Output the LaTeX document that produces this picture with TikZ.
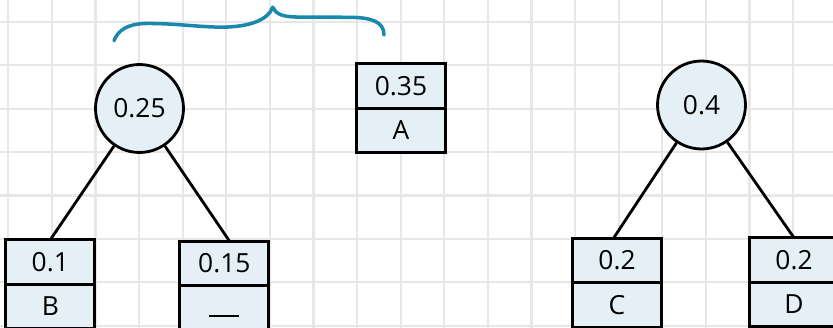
\documentclass[tikz,border=0pt]{standalone}
\usepackage{fontspec}
\setmainfont{Open Sans}
\usetikzlibrary{positioning}
\definecolor{cellfill}{HTML}{E4F0F5}
\definecolor{bracecol}{HTML}{1888AD}
\definecolor{gridcol}{HTML}{E7E7E7}
\begin{document}
\begin{tikzpicture}[x=0.02cm,y=-0.02cm,
  every node/.style={font=\fontsize{15}{18}\selectfont},
  inner/.style={circle,draw,line width=1.6pt,fill=cellfill,minimum size=1.76cm,inner sep=0pt},
  cell/.style={rectangle,draw,line width=1.6pt,fill=cellfill,minimum width=1.78cm,minimum height=0.89cm,inner sep=0pt,outer sep=0pt},
  edge/.style={line width=1.6pt}]
  \useasboundingbox (0,0) rectangle (833,328);
  \clip (0,0) rectangle (833,328);
  \fill[white] (0,0) rectangle (833,328);
  % grid
  \foreach \i in {0,...,18}
    \draw[gridcol,line width=1.2pt] ({8.3+43.6*\i},0) -- ({8.3+43.6*\i},328);
  \foreach \j in {0,...,7}
    \draw[gridcol,line width=1.2pt] (0,{21.7+43.45*\j}) -- (833,{21.7+43.45*\j});
  % brace over 0.25 and A
  \draw[bracecol,line width=2pt,line cap=round,line join=round]
    (114,40.7) .. controls (118,30) and (128,24) .. (145,23.5)
    .. controls (175,23) and (205,28) .. (228,27)
    .. controls (250,26) and (268,20) .. (272.7,7.3)
    .. controls (276,14) and (282,16.5) .. (295,17) -- (350,17.3)
    .. controls (372,17.5) and (384,22) .. (384,35);
  % left tree
  \node[inner] (n25) at (139.5,108.5) {0.25};
  \node[cell] (pB) at (50.3,262) {0.1};
  \node[cell,below=0pt of pB] (sB) {B};
  \node[cell] (pU) at (224.3,263.5) {0.15};
  \node[cell,below=0pt of pU] (sU) {\vphantom{B}\rule{0.6cm}{1.6pt}};
  \draw[edge] (n25) -- (pB.north);
  \draw[edge] (n25) -- ([xshift=3pt]pU.north);
  % single A
  \node[cell] (pA) at (401,86) {0.35};
  \node[cell,below=0pt of pA] (sA) {A};
  % right tree
  \node[inner] (n40) at (701.5,105) {0.4};
  \node[cell] (pC) at (617,260.5) {0.2};
  \node[cell,below=0pt of pC] (sC) {C};
  \node[cell] (pD) at (794,260) {0.2};
  \node[cell,below=0pt of pD] (sD) {D};
  \draw[edge] (n40) -- ([xshift=-2pt]pC.north);
  \draw[edge] (n40) -- (pD.north);
\end{tikzpicture}
\end{document}
